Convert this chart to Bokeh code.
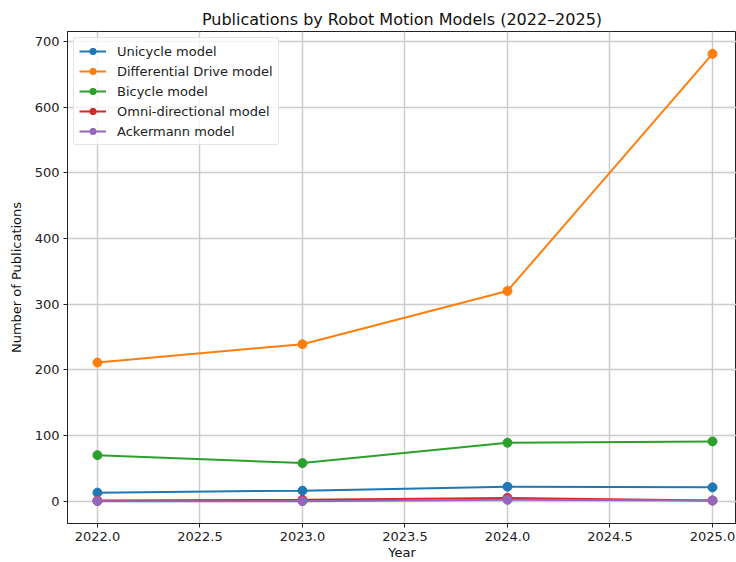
from bokeh.plotting import figure
from bokeh.models import FixedTicker, PrintfTickFormatter, Range1d
from bokeh.embed import file_html
from bokeh.resources import INLINE

years = [2022, 2023, 2024, 2025]
unicycle = [13, 16, 22, 21]
differential = [211, 239, 320, 681]
bicycle = [70, 58, 89, 91]
omni = [1, 2, 5, 1]
ackermann = [0, 0, 2, 1]

series_names = ["Unicycle model", "Differential Drive model", "Bicycle model",
                "Omni-directional model", "Ackermann model"]
series_values = [unicycle, differential, bicycle, omni, ackermann]
colors = ["#1f77b4", "#ff7f0e", "#2ca02c", "#d62728", "#9467bd"]

x_ticks = [2022.0, 2022.5, 2023.0, 2023.5, 2024.0, 2024.5, 2025.0]
y_ticks = [0, 100, 200, 300, 400, 500, 600, 700]

FONT = "DejaVu Sans"

p = figure(width=736, height=562, output_backend="svg", toolbar_location=None,
           title="Publications by Robot Motion Models (2022\u20132025)",
           x_range=Range1d(2021.854, 2025.117), y_range=Range1d(-34, 715),
           min_border_left=67, min_border_right=0, min_border_top=31, min_border_bottom=0)

p.title.text_font = FONT
p.title.text_font_size = "16px"
p.title.text_font_style = "normal"
p.title.text_color = "#111111"
p.title.align = "center"
p.title.standoff = 5

for name, vals, c in zip(series_names, series_values, colors):
    p.line(years, vals, line_color=c, line_width=2, legend_label=name)
    p.scatter(years, vals, size=9, fill_color=c, line_color=c, legend_label=name)

p.xaxis.ticker = FixedTicker(ticks=x_ticks)
p.xaxis.formatter = PrintfTickFormatter(format="%.1f")
p.yaxis.ticker = FixedTicker(ticks=y_ticks)
p.xaxis.axis_label = "Year"
p.yaxis.axis_label = "Number of Publications"

for ax in (p.xaxis, p.yaxis):
    ax.axis_label_text_font = FONT
    ax.axis_label_text_font_size = "13px"
    ax.axis_label_text_font_style = "normal"
    ax.axis_label_text_color = "#111111"
    ax.major_label_text_font = FONT
    ax.major_label_text_font_size = "13px"
    ax.major_label_text_color = "#222222"
    ax.axis_line_color = "#222222"
    ax.major_tick_line_color = "#222222"
    ax.major_tick_in = 0
    ax.major_tick_out = 4
    ax.minor_tick_line_color = None
    ax.major_label_standoff = 4
    ax.axis_label_standoff = 8

p.xaxis.major_label_standoff = 4
p.xaxis.axis_label_standoff = 1

p.grid.grid_line_color = "#cccccc"
p.grid.grid_line_width = 1.5
p.outline_line_color = "#222222"
p.outline_line_width = 1
p.background_fill_color = "white"
p.border_fill_color = "white"

p.legend.location = "top_left"
p.legend.margin = 6
p.legend.padding = 5
p.legend.spacing = 4
p.legend.glyph_width = 27
p.legend.glyph_height = 16
p.legend.label_height = 16
p.legend.label_text_font = FONT
p.legend.label_text_font_size = "13px"
p.legend.label_text_color = "#222222"
p.legend.border_line_color = "#cccccc"
p.legend.border_line_width = 1
p.legend.border_radius = 3
p.legend.background_fill_alpha = 0.8
p.legend.label_standoff = 11

open("out.html", "w").write(file_html(p, INLINE))
